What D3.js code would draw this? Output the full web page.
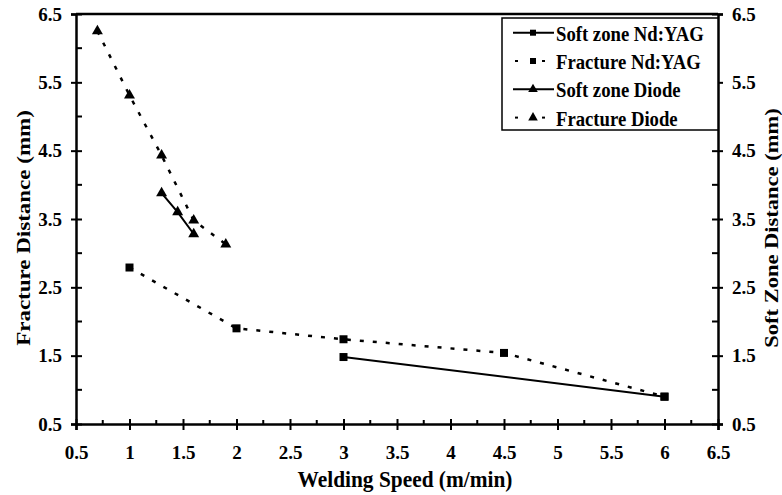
<!DOCTYPE html>
<html>
<head>
<meta charset="utf-8">
<script src="https://cdn.jsdelivr.net/npm/d3@7"></script>
<style>
  html, body { margin: 0; padding: 0; background: #fff; }
  svg text { font-family: "Liberation Serif", "Times New Roman", serif; font-weight: bold; fill: #000; }
</style>
</head>
<body>
<svg id="chart"></svg>
<script>
// data (x = welding speed m/min, y = distance mm)
const fractureDiodeX = [0.7, 1.0, 1.3, 1.6, 1.9];
const fractureDiodeY = [6.25, 5.31, 4.43, 3.48, 3.13];
const softDiodeX = [1.3, 1.45, 1.6];
const softDiodeY = [3.88, 3.6, 3.28];
const fractureYagX = [1, 2, 3, 4.5, 6];
const fractureYagY = [2.79, 1.9, 1.74, 1.54, 0.9];
const softYagX = [3, 6];
const softYagY = [1.48, 0.9];

const xTicks = [0.5, 1, 1.5, 2, 2.5, 3, 3.5, 4, 4.5, 5, 5.5, 6, 6.5];
const yTicks = [0.5, 1.5, 2.5, 3.5, 4.5, 5.5, 6.5];

const legendItems = [
    { label: 'Soft zone Nd:YAG', marker: 'square', dashed: false },
    { label: 'Fracture Nd:YAG', marker: 'square', dashed: true },
    { label: 'Soft zone Diode', marker: 'triangle', dashed: false },
    { label: 'Fracture Diode', marker: 'triangle', dashed: true }
];

const W = 782, H = 495;
const margin = { top: 14, right: 64, bottom: 71, left: 76 };
const innerW = W - margin.left - margin.right;
const innerH = H - margin.top - margin.bottom;

const svg = d3.select('#chart').attr('width', W).attr('height', H);
const g = svg.append('g').attr('transform', `translate(${margin.left},${margin.top})`);

const x = d3.scaleLinear().domain([0.5, 6.5]).range([0, innerW]);
const y = d3.scaleLinear().domain([0.5, 6.5]).range([innerH, 0]);   // fracture (left)
const y2 = d3.scaleLinear().domain([0.5, 6.5]).range([innerH, 0]);  // soft zone (right)

const fmt = d => String(d);
const minorX = d3.range(0.75, 6.5, 0.5);
const minorY = d3.range(1, 6.5, 1);

// top border
g.append('line')
    .attr('x1', 0).attr('x2', innerW).attr('y1', 0).attr('y2', 0)
    .attr('stroke', '#000').attr('stroke-width', 2.5);

// minor ticks (inward only)
g.append('g').selectAll('line').data(minorX).join('line')
    .attr('x1', d => x(d)).attr('x2', d => x(d))
    .attr('y1', innerH).attr('y2', innerH - 4)
    .attr('stroke', '#000').attr('stroke-width', 2);
g.append('g').selectAll('line').data(minorY).join('line')
    .attr('x1', 0).attr('x2', 6)
    .attr('y1', d => y(d)).attr('y2', d => y(d))
    .attr('stroke', '#000').attr('stroke-width', 2);
g.append('g').selectAll('line').data(minorY).join('line')
    .attr('x1', innerW).attr('x2', innerW - 6)
    .attr('y1', d => y2(d)).attr('y2', d => y2(d))
    .attr('stroke', '#000').attr('stroke-width', 2);

function styleAxis(sel) {
    sel.select('.domain').attr('stroke-width', 2.5);
    sel.selectAll('.tick line').attr('stroke-width', 2);
    sel.selectAll('.tick text').style('font-size', '19px');
}

// x axis (ticks cross the axis)
const xAxisG = g.append('g')
    .attr('transform', `translate(0,${innerH})`)
    .call(d3.axisBottom(x).tickValues(xTicks).tickFormat(fmt).tickSizeOuter(0).tickSize(6).tickPadding(16));
styleAxis(xAxisG);
xAxisG.selectAll('.tick line').attr('y1', -5).attr('y2', 6);

// left axis
const yAxisG = g.append('g')
    .call(d3.axisLeft(y).tickValues(yTicks).tickFormat(fmt).tickSizeOuter(0).tickSize(5).tickPadding(9));
styleAxis(yAxisG);
yAxisG.selectAll('.tick line').attr('x1', 6).attr('x2', -5);

// right axis
const y2AxisG = g.append('g')
    .attr('transform', `translate(${innerW},0)`)
    .call(d3.axisRight(y2).tickValues(yTicks).tickFormat(fmt).tickSizeOuter(0).tickSize(5).tickPadding(9));
styleAxis(y2AxisG);
y2AxisG.selectAll('.tick line').attr('x1', -6).attr('x2', 5);

// axis titles (the source figure is a little squeezed horizontally)
svg.append('text')
    .attr('transform', 'translate(405,487) scale(0.93,1)')
    .attr('text-anchor', 'middle')
    .style('font-size', '23px')
    .text('Welding Speed (m/min)');

svg.append('text')
    .attr('transform', 'translate(30,228) rotate(-90) scale(1,0.85)')
    .attr('text-anchor', 'middle')
    .style('font-size', '23px')
    .text('Fracture Distance (mm)');

svg.append('text')
    .attr('transform', 'translate(778,228) rotate(-90) scale(1,0.85)')
    .attr('text-anchor', 'middle')
    .style('font-size', '22.5px')
    .text('Soft Zone Distance (mm)');

// series
const series = [
    { xs: fractureDiodeX, ys: fractureDiodeY, scale: y, marker: 'triangle', dashed: true },
    { xs: softDiodeX, ys: softDiodeY, scale: y2, marker: 'triangle', dashed: false },
    { xs: fractureYagX, ys: fractureYagY, scale: y, marker: 'square', dashed: true },
    { xs: softYagX, ys: softYagY, scale: y2, marker: 'square', dashed: false }
];

const symbolFor = m => m === 'square'
    ? d3.symbol(d3.symbolSquare, 64)
    : d3.symbol(d3.symbolTriangle, 52);

series.forEach(s => {
    const pts = s.xs.map((v, i) => [v, s.ys[i]]);
    const line = d3.line().x(d => x(d[0])).y(d => s.scale(d[1]));
    g.append('path')
        .datum(pts)
        .attr('d', line)
        .attr('fill', 'none')
        .attr('stroke', '#000')
        .attr('stroke-width', s.dashed ? 2.5 : 2)
        .attr('stroke-dasharray', s.dashed ? '4,9' : null);
    g.append('g').selectAll('path').data(pts).join('path')
        .attr('transform', d => `translate(${x(d[0])},${s.scale(d[1])})`)
        .attr('d', symbolFor(s.marker))
        .attr('fill', '#000');
});

// legend
const lg = svg.append('g').attr('transform', 'translate(502,18)');
lg.append('rect')
    .attr('width', 216).attr('height', 112)
    .attr('fill', '#fff').attr('stroke', '#000').attr('stroke-width', 1.5);

legendItems.forEach((item, i) => {
    const cy = 14.7 + i * 28.3;
    const row = lg.append('g').attr('transform', `translate(0,${cy})`);
    if (item.dashed) {
        row.append('line').attr('x1', 13).attr('x2', 16).attr('y1', 0).attr('y2', 0)
            .attr('stroke', '#000').attr('stroke-width', 2);
        row.append('line').attr('x1', 40).attr('x2', 43).attr('y1', 0).attr('y2', 0)
            .attr('stroke', '#000').attr('stroke-width', 2);
    } else {
        row.append('line').attr('x1', 11).attr('x2', 52).attr('y1', 0).attr('y2', 0)
            .attr('stroke', '#000').attr('stroke-width', 2);
    }
    row.append('path')
        .attr('transform', `translate(31,0)`)
        .attr('d', item.marker === 'square'
            ? d3.symbol(d3.symbolSquare, 36)()
            : d3.symbol(d3.symbolTriangle, 40)())
        .attr('fill', '#000');
    row.append('text')
        .attr('transform', 'translate(54,8) scale(0.85,1)')
        .style('font-size', '22px')
        .text(item.label);
});
</script>
</body>
</html>
